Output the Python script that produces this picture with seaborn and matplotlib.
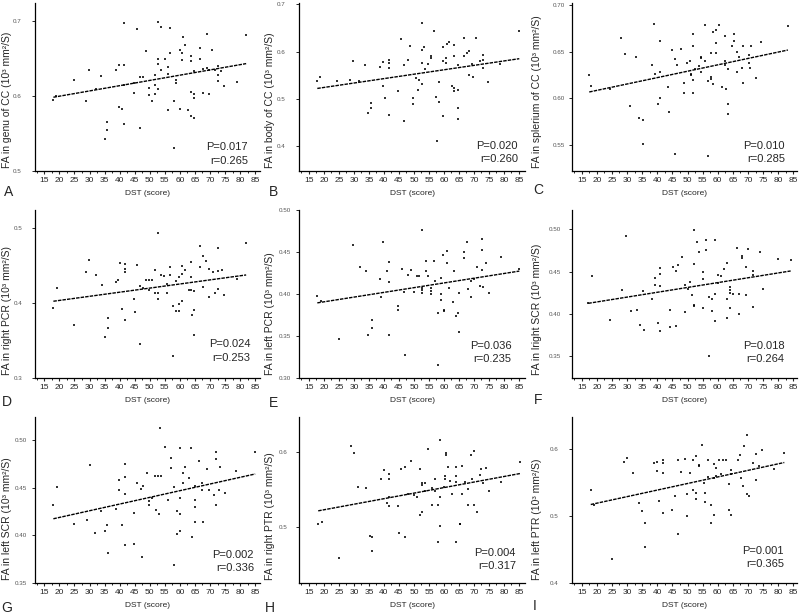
import matplotlib
matplotlib.use('Agg')
import matplotlib.pyplot as plt
import matplotlib.ticker as ticker
import seaborn as sns

# (DST score, FA) pairs
genu_cc = [(18, 0.595), (19, 0.600), (24.9, 0.621), (28.8, 0.594), (29.8, 0.635), (32, 0.610), (33.8, 0.627),
           (35, 0.543), (35.7, 0.566), (35.7, 0.555), (38.8, 0.635), (39.8, 0.642), (39.7, 0.586), (40.9, 0.583),
           (41.6, 0.698), (41.6, 0.641), (41.6, 0.615), (41.6, 0.562), (45.7, 0.690), (44.8, 0.604), (44.8, 0.617),
           (46.8, 0.625), (46.8, 0.557), (47.9, 0.625), (48.7, 0.660), (49.9, 0.611), (49.9, 0.601), (50.9, 0.593),
           (51.8, 0.615), (51.8, 0.603), (51.8, 0.628), (52.9, 0.699), (52.9, 0.649), (52.9, 0.643), (52.9, 0.610),
           (53.6, 0.692), (53.6, 0.635), (54.9, 0.650), (55.9, 0.639), (55.9, 0.629), (55.9, 0.581), (56.8, 0.691),
           (56.8, 0.657), (57.9, 0.594), (57.9, 0.531), (58.7, 0.621), (58.7, 0.617), (59.9, 0.662), (59.9, 0.583),
           (60.6, 0.658), (60.6, 0.648), (61, 0.678), (61.7, 0.668), (62.8, 0.581), (63.7, 0.653), (63.7, 0.647),
           (63.7, 0.606), (63.7, 0.574), (64.7, 0.633), (64.7, 0.603), (64.7, 0.598), (64.7, 0.571), (66.7, 0.664),
           (66.7, 0.650), (67.8, 0.636), (67.8, 0.604), (68.9, 0.683), (68.9, 0.637), (69.7, 0.635), (69.7, 0.603),
           (70.8, 0.662), (71.7, 0.635), (72.8, 0.640), (72.8, 0.628), (72.8, 0.620), (73.7, 0.633), (74.8, 0.614),
           (78.9, 0.619), (82, 0.681)]

body_cc = [(17.8, 0.538), (18.6, 0.547), (24.5, 0.538), (28.6, 0.541), (29.8, 0.581), (31.8, 0.538), (33.7, 0.571),
           (34.8, 0.470), (35.7, 0.492), (35.7, 0.482), (38.7, 0.568), (39.6, 0.578), (39.8, 0.527), (40.5, 0.503),
           (41.8, 0.582), (41.8, 0.576), (41.8, 0.566), (41.8, 0.467), (44.8, 0.517), (45.7, 0.627), (46.8, 0.571),
           (46.8, 0.454), (47.9, 0.582), (48.7, 0.613), (49.8, 0.503), (49.8, 0.489), (50.7, 0.545), (51.5, 0.520),
           (51.7, 0.540), (52.6, 0.660), (52.6, 0.604), (52.6, 0.577), (52.6, 0.531), (53.5, 0.609), (53.7, 0.564),
           (54.6, 0.575), (55.7, 0.590), (55.7, 0.587), (56.8, 0.644), (57.4, 0.505), (58.4, 0.536), (58.4, 0.493),
           (57.6, 0.412), (59.8, 0.609), (59.8, 0.580), (59.8, 0.465), (60.7, 0.587), (60.7, 0.576), (60.9, 0.616),
           (61.8, 0.620), (62.6, 0.527), (63.5, 0.615), (63.5, 0.592), (63.5, 0.524), (63.5, 0.517), (64.8, 0.519),
           (64.8, 0.482), (64.8, 0.458), (64.8, 0.571), (66.8, 0.629), (66.8, 0.592), (67.6, 0.597), (68.5, 0.602),
           (68.5, 0.550), (69.2, 0.575), (69.8, 0.547), (70.7, 0.629), (72, 0.580), (72.9, 0.594), (72.9, 0.583),
           (72.9, 0.565), (74.6, 0.536), (78.7, 0.575), (85.1, 0.643)]

splenium_cc = [(17.5, 0.625), (18.2, 0.613), (24.3, 0.610), (28.1, 0.665), (29.2, 0.647), (31.1, 0.592), (33, 0.644),
               (34.1, 0.579), (35.2, 0.577), (35.2, 0.551), (38.1, 0.636), (39, 0.680), (39.2, 0.626), (40.2, 0.594),
               (41, 0.661), (41, 0.628), (41, 0.600), (43.7, 0.612), (43.9, 0.586), (44.8, 0.652), (45.7, 0.642),
               (45.8, 0.541), (46.5, 0.636), (47.7, 0.653), (48.7, 0.617), (48.7, 0.606), (49.8, 0.638), (50.7, 0.640),
               (51, 0.625), (51, 0.626), (51.8, 0.669), (51.8, 0.656), (51.8, 0.620), (51.8, 0.606), (52.6, 0.631),
               (53.8, 0.635), (54.5, 0.644), (54.5, 0.643), (54.5, 0.628), (55.7, 0.678), (55.7, 0.640), (56.7, 0.619),
               (56.7, 0.539), (57.6, 0.649), (57.6, 0.623), (57.8, 0.621), (58.4, 0.671), (58.4, 0.615), (59.5, 0.673),
               (59.5, 0.659), (59.5, 0.649), (60.3, 0.679), (61.3, 0.612), (62.4, 0.667), (62.4, 0.640), (62.4, 0.636),
               (62.7, 0.610), (63.5, 0.594), (63.5, 0.583), (63.5, 0.631), (64.7, 0.656), (65.4, 0.669), (65.4, 0.661),
               (66.5, 0.650), (66.5, 0.628), (67.1, 0.644), (67.9, 0.633), (68.5, 0.656), (68.5, 0.617), (70.4, 0.638),
               (70.4, 0.646), (70.6, 0.633), (71.1, 0.656), (72.8, 0.622), (74.4, 0.660), (83.2, 0.677)]

right_pcr = [(18, 0.394), (19.1, 0.420), (24.9, 0.371), (28.8, 0.442), (29.9, 0.458), (32.1, 0.438), (34.1, 0.424),
             (35.2, 0.355), (36, 0.380), (36, 0.367), (38.7, 0.428), (39.6, 0.431), (40, 0.454), (40.7, 0.392),
             (41.8, 0.452), (41.8, 0.445), (41.8, 0.442), (41.8, 0.378), (44.8, 0.406), (45, 0.388), (45.9, 0.451),
             (46.8, 0.423), (46.8, 0.345), (47.6, 0.420), (48.7, 0.431), (49.8, 0.431), (49.8, 0.417), (50.7, 0.431),
             (51.7, 0.444), (51.7, 0.414), (52.6, 0.494), (52.6, 0.414), (52.6, 0.405), (53.7, 0.438), (54.6, 0.436),
             (55.7, 0.425), (55.7, 0.414), (56.8, 0.448), (56.8, 0.438), (57.6, 0.396), (57.6, 0.330), (58.7, 0.430),
             (58.7, 0.390), (59.6, 0.435), (59.6, 0.390), (59.6, 0.399), (60.7, 0.450), (60.7, 0.439), (60.7, 0.403),
             (61.8, 0.444), (62.9, 0.417), (63.7, 0.455), (63.7, 0.435), (63.7, 0.417), (63.9, 0.384), (64.8, 0.416),
             (64.8, 0.391), (64.8, 0.358), (66.8, 0.476), (66.8, 0.448), (67.8, 0.463), (67.8, 0.422), (68.7, 0.456),
             (69.8, 0.445), (69.8, 0.408), (70.9, 0.442), (71.8, 0.413), (72.8, 0.473), (72.8, 0.443), (72.8, 0.419),
             (73.9, 0.444), (74.8, 0.411), (79, 0.432), (82, 0.480)]

left_pcr = [(17.8, 0.398), (19.1, 0.392), (25, 0.347), (29.8, 0.458), (32, 0.432), (34, 0.427), (34.8, 0.351),
            (36, 0.369), (36, 0.359), (38.7, 0.418), (39, 0.396), (39.7, 0.462), (40.9, 0.427), (41.7, 0.438),
            (41.7, 0.414), (41.7, 0.351), (44.8, 0.386), (44.8, 0.381), (45.9, 0.430), (46.8, 0.402), (47, 0.327),
            (47.9, 0.423), (48.9, 0.429), (50, 0.402), (50.9, 0.422), (51.6, 0.422), (52.6, 0.476), (52.6, 0.407),
            (52.8, 0.405), (52.8, 0.401), (53.9, 0.439), (53.9, 0.427), (54.7, 0.422), (55.7, 0.407), (55.7, 0.404),
            (55.7, 0.400), (56.7, 0.439), (57, 0.416), (57.9, 0.377), (57.9, 0.316), (59.1, 0.419), (59.1, 0.400),
            (59.1, 0.393), (59.8, 0.447), (60, 0.381), (60, 0.380), (60.9, 0.437), (60.9, 0.451), (61.8, 0.407),
            (62.9, 0.391), (63.5, 0.427), (64, 0.374), (64.7, 0.377), (65, 0.401), (65, 0.355), (66.8, 0.450),
            (66.8, 0.443), (67.6, 0.462), (68.1, 0.406), (68.9, 0.396), (69, 0.416), (70, 0.418), (71.1, 0.432),
            (72, 0.409), (73, 0.408), (72.8, 0.466), (72.8, 0.452), (72.8, 0.429), (73.9, 0.437), (74.9, 0.401),
            (79, 0.444), (85.1, 0.430)]

right_scr = [(17.2, 0.413), (18.4, 0.445), (24.4, 0.393), (28.2, 0.428), (29.5, 0.492), (31.3, 0.403), (33.2, 0.405),
             (34.3, 0.387), (35.4, 0.427), (35.6, 0.381), (38.4, 0.417), (39.2, 0.443), (39.2, 0.434), (40.2, 0.389),
             (41, 0.454), (41, 0.447), (41, 0.433), (41, 0.380), (44.2, 0.405), (44.2, 0.385), (45.1, 0.455),
             (46.1, 0.451), (46.1, 0.386), (47, 0.458), (48.1, 0.467), (49.2, 0.402), (49.2, 0.434), (50, 0.430),
             (50.9, 0.438), (51.4, 0.422), (52.1, 0.499), (52.1, 0.459), (52.1, 0.411), (52.1, 0.409), (53, 0.485),
             (53.9, 0.473), (55, 0.449), (55, 0.441), (55, 0.407), (56.1, 0.476), (56.1, 0.488), (57.2, 0.420),
             (57.2, 0.350), (58, 0.418), (58, 0.403), (59.1, 0.488), (59.1, 0.424), (59.1, 0.391), (60.2, 0.436),
             (60.2, 0.446), (61.1, 0.445), (62, 0.453), (63, 0.418), (63, 0.395), (63, 0.460), (64, 0.407),
             (64, 0.425), (64, 0.428), (64, 0.432), (65.1, 0.424), (66.2, 0.478), (67.1, 0.400), (67.1, 0.424),
             (68.1, 0.469), (68.1, 0.466), (69.3, 0.456), (69.3, 0.422), (70, 0.477), (71.8, 0.446), (71.8, 0.451),
             (71.8, 0.408), (74, 0.473), (75.1, 0.429), (80, 0.465), (84.1, 0.464)]

left_scr = [(18, 0.432), (19.2, 0.451), (25, 0.412), (29.1, 0.416), (30.1, 0.474), (31.8, 0.402), (33.8, 0.425),
            (35, 0.405), (35.7, 0.411), (36, 0.381), (38.7, 0.428), (39.8, 0.458), (39.8, 0.447), (40.9, 0.411),
            (41.9, 0.475), (41.9, 0.461), (41.9, 0.443), (41.9, 0.390), (44.9, 0.423), (44.9, 0.391), (45.7, 0.455),
            (47, 0.449), (47.3, 0.377), (47.9, 0.452), (49, 0.465), (49.9, 0.432), (49.9, 0.436), (50.7, 0.439),
            (51.8, 0.462), (52.1, 0.426), (52.7, 0.462), (53.1, 0.422), (53.5, 0.512), (53.7, 0.462), (55.1, 0.493),
            (56, 0.437), (56.9, 0.481), (56.9, 0.471), (57.9, 0.451), (58.1, 0.369), (59, 0.425), (59, 0.401),
            (59.9, 0.439), (60.1, 0.492), (60.1, 0.422), (61, 0.465), (61, 0.455), (60.1, 0.404), (61.8, 0.472),
            (62.9, 0.460), (63.8, 0.491), (64.9, 0.414), (65.1, 0.452), (64, 0.398), (65.1, 0.437), (65.1, 0.430),
            (66.5, 0.478), (67.3, 0.448), (67.3, 0.455), (67.8, 0.414), (69, 0.469), (69.8, 0.448), (71.2, 0.442),
            (72, 0.480), (72, 0.487), (72, 0.432), (72.9, 0.448), (73.4, 0.472), (74.9, 0.444), (78.7, 0.467),
            (85, 0.487)]

right_ptr = [(18.1, 0.504), (19.3, 0.507), (25.1, 0.459), (29, 0.608), (30, 0.599), (31.5, 0.554), (34, 0.552),
             (35.2, 0.489), (36.1, 0.487), (36.1, 0.468), (39, 0.565), (39.9, 0.576), (41.1, 0.532), (41.7, 0.571),
             (41.7, 0.564), (41.7, 0.540), (41.7, 0.528), (44.8, 0.528), (44.9, 0.493), (45.8, 0.578), (46.9, 0.581),
             (46.9, 0.487), (47.9, 0.545), (49, 0.588), (50.1, 0.543), (50.9, 0.541), (52, 0.578), (52, 0.516),
             (52.7, 0.559), (52.7, 0.556), (52.7, 0.521), (53.7, 0.548), (53.7, 0.559), (54.7, 0.605), (55.9, 0.530),
             (55.9, 0.553), (57, 0.565), (57, 0.549), (57.9, 0.530), (58.1, 0.481), (58.8, 0.616), (58.8, 0.541),
             (58.8, 0.502), (60.1, 0.554), (60.3, 0.568), (60.3, 0.565), (60.8, 0.599), (60.8, 0.596), (61.2, 0.581),
             (62, 0.562), (62.8, 0.545), (63.9, 0.561), (64, 0.481), (64, 0.581), (64, 0.568), (65.2, 0.504),
             (65.2, 0.505), (65.9, 0.582), (65.9, 0.544), (67.1, 0.561), (67.9, 0.551), (68.1, 0.530), (69, 0.596),
             (69.2, 0.565), (70.1, 0.602), (70.1, 0.530), (71, 0.520), (72, 0.570), (72.3, 0.578), (73.1, 0.559),
             (74, 0.579), (75, 0.548), (79, 0.560), (85.3, 0.587)]

left_ptr = [(18, 0.538), (19.1, 0.517), (25.1, 0.436), (29, 0.581), (30.1, 0.586), (32, 0.564), (33.9, 0.519),
            (35, 0.508), (36.1, 0.489), (36.1, 0.453), (38.9, 0.579), (40, 0.581), (40, 0.567), (40.7, 0.523),
            (41.8, 0.584), (41.8, 0.579), (41.8, 0.564), (41.8, 0.505), (44.8, 0.509), (45.7, 0.529), (46.8, 0.584),
            (46.8, 0.473), (47.9, 0.566), (49, 0.585), (49.8, 0.533), (49.8, 0.500), (50.9, 0.564), (51.7, 0.584),
            (51.7, 0.538), (52.8, 0.590), (52.8, 0.534), (52.8, 0.525), (53.9, 0.576), (53.9, 0.575), (54.7, 0.606),
            (55.6, 0.549), (55.8, 0.534), (55.8, 0.521), (56.7, 0.583), (56.7, 0.558), (57.8, 0.517), (57.8, 0.489),
            (58.7, 0.578), (58.7, 0.556), (58.7, 0.501), (59.4, 0.571), (59.4, 0.560), (60.5, 0.584), (61.1, 0.563),
            (61.6, 0.583), (62.7, 0.583), (63.6, 0.548), (63.8, 0.509), (64.4, 0.563), (64.4, 0.569), (64.4, 0.501),
            (66.6, 0.583), (67.5, 0.591), (67.7, 0.556), (68.5, 0.544), (68.8, 0.604), (69.6, 0.620), (69.6, 0.533),
            (70.4, 0.529), (71.8, 0.579), (72.6, 0.593), (72.6, 0.554), (73.7, 0.574), (74.6, 0.598), (78.7, 0.570),
            (82, 0.594)]

panel_data = [genu_cc, body_cc, splenium_cc, right_pcr, left_pcr, right_scr, left_scr, right_ptr, left_ptr]
letters = ['A', 'B', 'C', 'D', 'E', 'F', 'G', 'H', 'I']
ylabels = ['FA in genu of CC (10³ mm²/S)', 'FA in body of CC (10³ mm²/S)', 'FA in splerium of CC (10³ mm²/S)',
           'FA in right PCR (10³ mm²/S)', 'FA in left PCR (10³ mm²/S)', 'FA in lright SCR (10³ mm²/S)',
           'FA in left SCR (10³ mm²/S)', 'FA in right PTR (10³ mm²/S)', 'FA in left PTR (10³ mm²/S)']
p_values = ['0.017', '0.020', '0.010', '0.024', '0.036', '0.018', '0.002', '0.004', '0.001']
r_values = ['0.265', '0.260', '0.285', '0.253', '0.235', '0.264', '0.336', '0.317', '0.365']
yticks = [[0.5, 0.6, 0.7], [0.4, 0.5, 0.6, 0.7], [0.55, 0.60, 0.65, 0.70],
          [0.3, 0.4, 0.5], [0.30, 0.35, 0.40, 0.45, 0.50], [0.35, 0.40, 0.45, 0.50],
          [0.35, 0.40, 0.45, 0.50], [0.5, 0.6], [0.4, 0.5, 0.6]]
ylims = [(0.5, 0.724), (0.348, 0.703), (0.5225, 0.702),
         (0.3, 0.524), (0.30, 0.50), (0.324, 0.523),
         (0.35, 0.524), (0.426, 0.647), (0.4, 0.6475)]

# layout (pixels of the 800x615 figure)
W, H = 800, 615
col_px = [(35, 260), (299, 525), (572, 797)]
row_px = [(3, 171), (210, 378), (417, 583)]
xlims = [(11.9, 86.6), (11.7, 87.0), (11.8, 86.2)]
ylab_x = [-0.102, -0.106, -0.135]
ytick_pad = [8, 8, 3, 7, 4, 6, 4, 6, 8]
stat_x = [0.947, 0.968, 0.947, 0.958, 0.94, 0.945, 0.973, 0.96, 0.942]
stat_y = [0.14, 0.15, 0.15, 0.20, 0.19, 0.19, 0.17, 0.18, 0.19]
letter_px = [(9, 192), (273, 192), (538, 190), (7, 402), (273, 403), (538, 400), (7, 608), (270, 608), (535, 606)]

sns.set_style('ticks')
plt.rcParams['font.family'] = ['Liberation Sans', 'DejaVu Sans']

fig = plt.figure(figsize=(8, 6.15), dpi=100)

for i, pts in enumerate(panel_data):
    r, c = divmod(i, 3)
    x0, x1 = col_px[c]
    y0, y1 = row_px[r]
    ax = fig.add_axes([x0 / W, 1 - y1 / H, (x1 - x0) / W, (y1 - y0) / H])

    dst = [p[0] for p in pts]
    fa = [p[1] for p in pts]
    sns.regplot(x=dst, y=fa, ax=ax, ci=None, truncate=True,
                marker='s', scatter_kws=dict(s=3.5, color='black', linewidths=0),
                line_kws=dict(color='black', lw=1.0, ls=(0, (2.5, 0.8))))

    ax.set_xlim(*xlims[c])
    ax.set_ylim(*ylims[i])
    ax.xaxis.set_minor_locator(ticker.MultipleLocator(2.5))
    ax.set_xticks(range(15, 90, 5))
    ax.set_yticks(yticks[i])
    dec = 1 if i in (0, 1, 3, 7, 8) else 2
    ax.yaxis.set_major_formatter(ticker.FormatStrFormatter(f'%.{dec}f'))

    sns.despine(ax=ax)
    for s in ('left', 'bottom'):
        ax.spines[s].set_linewidth(0.9)
        ax.spines[s].set_color('black')
    ax.tick_params(axis='x', which='major', direction='out', length=2.5, width=0.8, pad=2, labelsize=6)
    ax.tick_params(axis='x', which='minor', direction='out', length=1.5, width=0.7)
    ax.tick_params(axis='y', direction='out', length=2, width=0.7, pad=ytick_pad[i], labelsize=4.5,
                   labelcolor='#555555')

    ax.set_xlabel('DST (score)', fontsize=6)
    ax.xaxis.set_label_coords(0.5, -0.115)
    # label starts near the bottom of the axis and runs upward
    ax.set_ylabel(ylabels[i], fontsize=7.5, ha='left')
    ax.yaxis.set_label_coords(ylab_x[c], 0.02)

    ax.text(stat_x[i], stat_y[i], f'P={p_values[i]}', transform=ax.transAxes,
            ha='right', va='center', fontsize=8)
    ax.text(stat_x[i], stat_y[i] - 0.078, f'r={r_values[i]}', transform=ax.transAxes,
            ha='right', va='center', fontsize=8)

    lx, ly = letter_px[i]
    fig.text(lx / W, 1 - ly / H, letters[i], ha='center', va='center', fontsize=10)

fig.savefig('out.png', dpi=100, facecolor='white')
